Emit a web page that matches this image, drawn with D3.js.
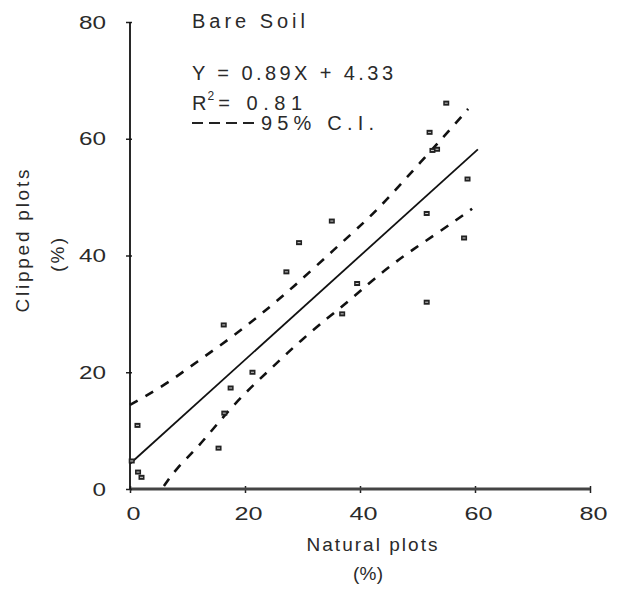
<!DOCTYPE html>
<html><head><meta charset="utf-8">
<script src="https://cdn.jsdelivr.net/npm/d3@7"></script>
<style>body{margin:0;background:#fff}svg{display:block}text{font-family:"Liberation Sans",Arial,sans-serif;fill:#2a2a2a}</style>
</head><body>
<svg id="c" width="617" height="590"></svg>
<script>
const xTicks = [0, 20, 40, 60, 80];
const yTicks = [0, 20, 40, 60, 80];
const pointsX = [55.0, 52.1, 52.6, 53.4, 58.7, 51.6, 35.1, 29.4, 58.1, 39.5, 36.9, 51.6, 27.2, 16.3, 21.3, 17.5, 16.4, 15.4, 1.3, 0.3, 1.4, 2.0];
const pointsY = [66.1, 61.1, 58.0, 58.2, 53.1, 47.2, 45.9, 42.2, 43.0, 35.2, 30.0, 32.0, 37.2, 28.1, 20.0, 17.3, 13.0, 7.0, 10.9, 4.8, 2.9, 2.0];
const slope = 0.89, intercept = 4.33, lineXRange = [0, 60.5];
const upperX = [0, 6.1, 11.8, 17.6, 23.0, 28.2, 35.8, 41.0, 45.0, 49.8, 54.8, 58.8];
const upperY = [14.4, 17.8, 21.9, 25.9, 30.1, 34.4, 41.3, 45.9, 49.9, 55.2, 60.6, 65.1];
const lowerX = [5.9, 8.1, 11.6, 15.1, 19.6, 24.6, 29.4, 34.6, 38.1, 42.4, 47.9, 53.6, 59.5];
const lowerY = [0.5, 3.6, 6.9, 11.1, 16.1, 20.7, 25.2, 29.5, 32.2, 36.0, 40.2, 43.9, 48.0];
const title = "Bare Soil", eqText = "Y = 0.89X + 4.33", r2Val = "0.81", ciText = "95% C.I.";
const xTitle = "Natural plots", yTitle = "Clipped plots", unitText = "(%)";

const svg = d3.select("#c");
const x = d3.scaleLinear().domain([0, 80]).range([130, 590]);
const y = d3.scaleLinear().domain([0, 80]).range([489, 22]);
const FONT = "Liberation Sans, Arial, sans-serif";

// x axis
const gx = svg.append("g").attr("transform", "translate(0,489)")
  .call(d3.axisBottom(x).tickValues(xTicks).tickSize(4).tickPadding(14).tickFormat(d3.format("d")));
gx.select(".domain").remove();
gx.selectAll(".tick line").attr("y1", -3).attr("stroke", "#222").attr("stroke-width", 1.5);
gx.selectAll("text").attr("font-size", 19).attr("font-family", FONT).attr("fill", "#2a2a2a")
  .attr("dx", 3)
  .each(function(d) { d3.select(this).attr("textLength", String(d).length * 14).attr("lengthAdjust", "spacingAndGlyphs"); });
svg.append("line").attr("x1", x(0)).attr("x2", x(80)).attr("y1", y(0)).attr("y2", y(0))
  .attr("stroke", "#444").attr("stroke-width", 3);

// y axis
const gy = svg.append("g").attr("transform", "translate(130,0)")
  .call(d3.axisLeft(y).tickValues(yTicks).tickSize(4).tickPadding(20).tickFormat(d3.format("d")));
gy.select(".domain").remove();
gy.selectAll(".tick line").attr("x1", -4).attr("x2", 2).attr("stroke", "#222").attr("stroke-width", 1.5);
gy.selectAll("text").attr("font-size", 19).attr("font-family", FONT).attr("fill", "#2a2a2a")
  .each(function(d) { d3.select(this).attr("textLength", String(d).length * 13.5).attr("lengthAdjust", "spacingAndGlyphs"); });
svg.append("line").attr("x1", x(0)).attr("x2", x(0)).attr("y1", y(80)).attr("y2", y(0))
  .attr("stroke", "#111").attr("stroke-width", 1.8);

// regression line
svg.append("line")
  .attr("x1", x(lineXRange[0])).attr("y1", y(slope * lineXRange[0] + intercept))
  .attr("x2", x(lineXRange[1])).attr("y2", y(slope * lineXRange[1] + intercept))
  .attr("stroke", "#111").attr("stroke-width", 1.8);

// CI lines
const ln = d3.line().x(d => x(d[0])).y(d => y(d[1])).curve(d3.curveBasis);
[d3.zip(upperX, upperY), d3.zip(lowerX, lowerY)].forEach(data => {
  svg.append("path").attr("d", ln(data))
    .attr("fill", "none").attr("stroke", "#111").attr("stroke-width", 2.6).attr("stroke-dasharray", "9,9");
});

// points
const pts = svg.append("g");
d3.zip(pointsX, pointsY).forEach(([px, py]) => {
  const cx = x(px), cy = y(py);
  pts.append("rect").attr("x", cx - 3).attr("y", cy - 2.5).attr("width", 6).attr("height", 5)
    .attr("fill", "#222");
  pts.append("line").attr("x1", cx - 1.5).attr("x2", cx + 1.5).attr("y1", cy).attr("y2", cy)
    .attr("stroke", "#fff").attr("stroke-width", 0.8);
});

// annotation texts
svg.append("text").attr("x", 192).attr("y", 28).attr("font-size", 20)
  .attr("textLength", 113).attr("lengthAdjust", "spacing").text(title);
svg.append("text").attr("x", 192).attr("y", 80).attr("font-size", 20)
  .attr("textLength", 201).attr("lengthAdjust", "spacing").text(eqText);
const r2 = svg.append("text").attr("x", 192).attr("y", 110).attr("font-size", 20);
r2.append("tspan").text("R");
r2.append("tspan").attr("font-size", 12).attr("dy", -10).attr("dx", 1).text("2");
r2.append("tspan").attr("dy", 10).attr("dx", 4).attr("textLength", 84).attr("lengthAdjust", "spacing").text("= " + r2Val);
svg.append("line").attr("x1", 192).attr("x2", 258).attr("y1", 123).attr("y2", 123)
  .attr("stroke", "#222").attr("stroke-width", 2.2).attr("stroke-dasharray", "11,6");
svg.append("text").attr("x", 261).attr("y", 130).attr("font-size", 20)
  .attr("textLength", 113).attr("lengthAdjust", "spacing").text(ciText);

// axis titles
svg.append("text").attr("x", 372).attr("y", 551).attr("text-anchor", "middle").attr("font-size", 19)
  .attr("textLength", 131).attr("lengthAdjust", "spacing").text(xTitle);
svg.append("text").attr("x", 368).attr("y", 580).attr("text-anchor", "middle").attr("font-size", 19)
  .attr("textLength", 30).attr("lengthAdjust", "spacing").text(unitText);
svg.append("text").attr("transform", "translate(29,241) rotate(-90)").attr("text-anchor", "middle").attr("font-size", 19)
  .attr("textLength", 143).attr("lengthAdjust", "spacing").text(yTitle);
svg.append("text").attr("transform", "translate(64,255) rotate(-90)").attr("text-anchor", "middle").attr("font-size", 19)
  .attr("textLength", 34).attr("lengthAdjust", "spacing").text(unitText);
</script>
</body></html>
